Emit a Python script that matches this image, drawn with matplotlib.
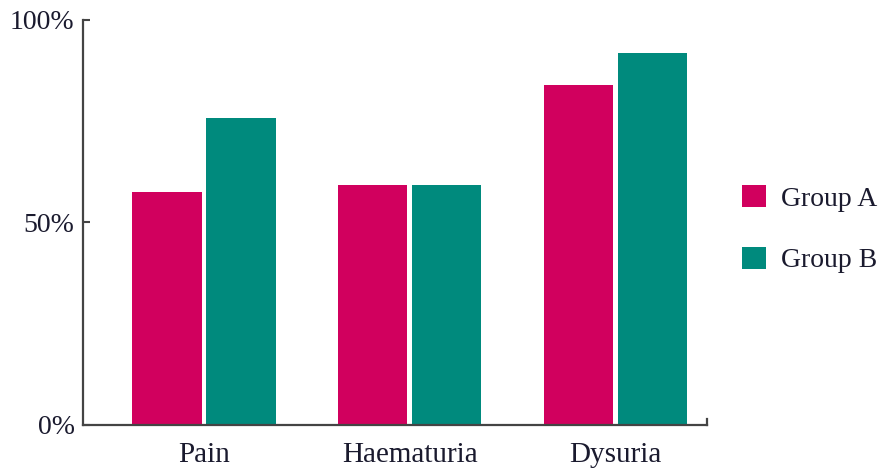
import numpy as np
import matplotlib
matplotlib.use('Agg')
import matplotlib.pyplot as plt
from matplotlib.patches import Patch

# Data (percent of patients)
categories = ['Pain', 'Haematuria', 'Dysuria']
group_a = [57.5, 59.3, 84.0]
group_b = [75.9, 59.3, 91.8]
series_names = ['Group A', 'Group B']

COL_A = '#D1005E'
COL_B = '#008A7D'
TXT = '#1a1a2e'

plt.rcParams['font.family'] = ['Liberation Serif', 'DejaVu Serif']

fig = plt.figure(figsize=(8.84, 4.68), dpi=100)
ax = fig.add_axes([0.0939, 0.0919, 0.7061, 0.8654])

x = np.arange(len(categories))
w = 0.336
off = 0.18
ax.bar(x - off, group_a, width=w, color=COL_A, label=series_names[0])
ax.bar(x + off, group_b, width=w, color=COL_B, label=series_names[1])

ax.set_xlim(-0.588, 2.445)
ax.set_ylim(0, 100)
ax.set_yticks([0, 50, 100])
ax.set_yticklabels(['0%', '50%', '100%'], fontsize=20, color=TXT)
ax.set_xticks(x)
ax.set_xticklabels(categories, fontsize=21, color=TXT)
ax.tick_params(axis='x', length=0, pad=12)
ax.tick_params(axis='y', direction='in', length=5, width=1.5, color='#444444', pad=6)

for s in ['top', 'right']:
    ax.spines[s].set_visible(False)
for s in ['left', 'bottom']:
    ax.spines[s].set_color('#444444')
    ax.spines[s].set_linewidth(1.6)

# small end tick on the right of the x axis
ax.plot([1, 1], [0, 0.015], transform=ax.transAxes, color='#444444',
        lw=1.6, clip_on=False)

handles = [Patch(facecolor=COL_A), Patch(facecolor=COL_B)]
fig.legend(handles, series_names, loc='center left', bbox_to_anchor=(0.811, 0.51),
           frameon=False, fontsize=20, handlelength=0.85, handleheight=0.85,
           handletextpad=0.55, labelspacing=1.25, labelcolor=TXT)

fig.savefig('out.png', dpi=100)
